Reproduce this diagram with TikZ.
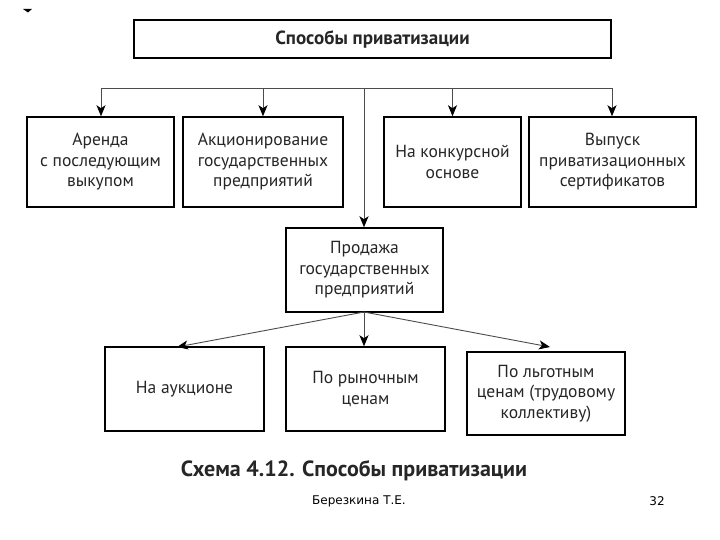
\documentclass[tikz,border=0pt]{standalone}
\usepackage{fontspec}
\setmainfont{PT Sans}
\newfontfamily\footfont{DejaVu Sans}
\usetikzlibrary{arrows.meta}
\begin{document}
\begin{tikzpicture}[x=1pt,y=-1pt,
  boxst/.style={draw=black,line width=1.5pt,align=center,inner sep=2pt,
    font=\fontsize{17.5}{20.5}\selectfont,text=black!85},
  conn/.style={draw=black!70,line width=0.9pt},
  arr/.style={conn,-{Stealth[length=11pt,width=9pt,inset=3pt,color=black,fill=black]}}]
\useasboundingbox (0,0) rectangle (720,540);
\fill[white] (0,0) rectangle (720,540);
% small mark top-left
\fill[black] (23,9) -- (32,9) -- (28,12.5) -- cycle;
% boxes
\node[boxst,minimum width=477pt,minimum height=38pt,font=\bfseries\fontsize{19}{22}\selectfont] (top) at (372.5,39) {Способы приватизации};
\node[boxst,minimum width=147pt,minimum height=90pt] (a1) at (100.5,162) {Аренда\\с последующим\\выкупом};
\node[boxst,minimum width=160pt,minimum height=90pt] (a2) at (263,162) {Акционирование\\государственных\\предприятий};
\node[boxst,minimum width=137pt,minimum height=90pt] (a3) at (452.5,162) {На конкурсной\\основе};
\node[boxst,minimum width=167pt,minimum height=90pt] (a4) at (612.5,162) {Выпуск\\приватизационных\\сертификатов};
\node[boxst,minimum width=157pt,minimum height=84pt] (sale) at (364.5,270) {Продажа\\государственных\\предприятий};
\node[boxst,minimum width=159pt,minimum height=84pt] (b1) at (184.5,389) {На аукционе};
\node[boxst,minimum width=159pt,minimum height=84pt] (b2) at (365.5,389) {По рыночным\\ценам};
\node[boxst,minimum width=158pt,minimum height=83pt] (b3) at (546,393.5) {По льготным\\ценам (трудовому\\коллективу)};
% connectors
\coordinate (hl) at (364,88);
\coordinate (hl1) at (101,88);
\coordinate (hl4) at (612,88);
\draw[conn] (hl1) -- (hl4);
\draw[arr] (hl1) -- (a1.north -| hl1);
\draw[arr] (a2.north |- hl) -- (a2.north);
\draw[arr] (a3.north |- hl) -- (a3.north);
\draw[arr] (hl4) -- (a4.north -| hl4);
\draw[arr] (hl) -- (sale.north -| hl);
\coordinate (t1) at (177,347);
\coordinate (t3) at (550,347);
\coordinate (s0) at (364,312);
\draw[arr] (s0) -- (t1);
\draw[arr] (s0) -- (b2.north -| s0);
\draw[arr] (s0) -- (t3);
% captions
\node[font=\bfseries\fontsize{22}{24}\selectfont,text=black!85] (cap) at (354,471) {Схема 4.12. Способы приватизации};
\node[font=\footfont\fontsize{12}{14}\selectfont,text=black] (auth) at (359,501) {Березкина Т.Е.};
\node[font=\footfont\fontsize{12}{14}\selectfont,text=black] (pg) at (657,501) {32};
\end{tikzpicture}
\end{document}
